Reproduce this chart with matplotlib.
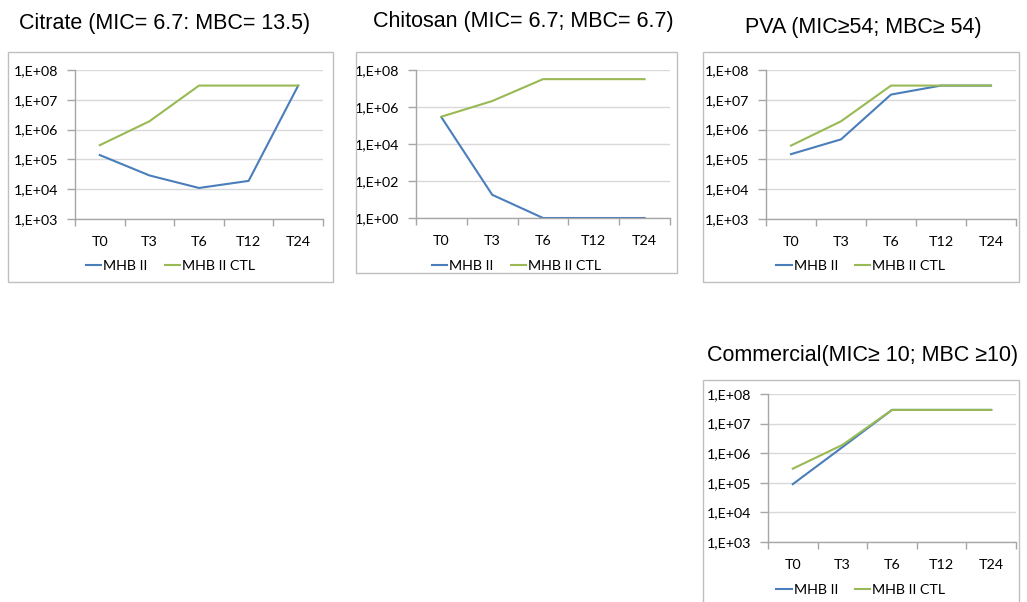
import math

import matplotlib

matplotlib.use("Agg")
import matplotlib.pyplot as plt
from matplotlib.patches import Rectangle
from matplotlib.ticker import FixedLocator, FuncFormatter

# --- данные (КОЕ/мл)
times = ["T0", "T3", "T6", "T12", "T24"]
series_names = ["MHB II", "MHB II CTL"]

citrate_mhb = [1.4e5, 2.9e4, 1.1e4, 1.9e4, 3.0e7]
citrate_ctl = [3.0e5, 1.9e6, 3.0e7, 3.0e7, 3.0e7]

chitosan_mhb = [2.8e5, 18, 1, 1, 1]
chitosan_ctl = [3.0e5, 2.1e6, 3.2e7, 3.2e7, 3.2e7]

pva_mhb = [1.5e5, 4.7e5, 1.5e7, 3.0e7, 3.0e7]
pva_ctl = [2.9e5, 1.9e6, 3.0e7, 3.0e7, 3.0e7]

comm_mhb = [9.0e4, 1.6e6, 2.9e7, 2.9e7, 2.9e7]
comm_ctl = [3.0e5, 1.9e6, 2.9e7, 2.9e7, 2.9e7]

titles = [
    "Citrate (MIC= 6.7: MBC= 13.5)",
    "Chitosan (MIC= 6.7; MBC= 6.7)",
    "PVA (MIC\u226554; MBC\u2265 54)",
    "Commercial(MIC\u2265 10; MBC \u226510)",
]

BLUE = "#4A7EBB"
GREEN = "#98B954"
GRID = "#D9D9D9"
AXIS = "#A6A6A6"
TICK_FONT = ["Lato", "DejaVu Sans"]
TITLE_FONT = ["Liberation Sans", "DejaVu Sans"]
TICK_SIZE = 10.3

W, H = 1027, 602
fig = plt.figure(figsize=(W / 100, H / 100), dpi=100)


def fx(x):
    return x / W


def fy(y):
    return 1 - y / H


def panel(box, axbox, title, title_xy, mhb, ctl, exps, legend_y):
    bx0, by0, bx1, by1 = box
    fig.patches.append(Rectangle((fx(bx0), fy(by1)), fx(bx1 - bx0), (by1 - by0) / H,
                                 transform=fig.transFigure, fill=False,
                                 edgecolor="#BFBFBF", lw=1.0))
    fig.text(fx(title_xy[0]), fy(title_xy[1]), title, ha="center", va="center",
             fontsize=15.5, family=TITLE_FONT)

    ax0, ay0, ax1, ay1 = axbox
    ax = fig.add_axes([fx(ax0), fy(ay1), fx(ax1 - ax0), (ay1 - ay0) / H])
    x = range(len(times))
    ax.plot(x, mhb, color=BLUE, lw=1.5, label=series_names[0])
    ax.plot(x, ctl, color=GREEN, lw=1.5, label=series_names[1])
    ax.set_yscale("log")
    ax.set_ylim(10.0 ** exps[0], 10.0 ** exps[-1])
    ax.set_xlim(-0.5, len(times) - 0.5)

    ax.yaxis.set_major_locator(FixedLocator([10.0 ** e for e in exps]))
    ax.yaxis.set_minor_locator(FixedLocator([]))
    ax.yaxis.set_major_formatter(FuncFormatter(lambda v, p: "1,E+%02d" % round(math.log10(v))))
    ax.grid(axis="y", color=GRID, lw=1.0)
    ax.set_axisbelow(True)

    ax.set_xticks(list(x), times)
    ax.set_xticks([i - 0.5 for i in range(len(times) + 1)], minor=True)
    ax.tick_params(axis="x", which="major", length=0, pad=12)
    ax.tick_params(axis="x", which="minor", length=5, color=AXIS, width=1)
    ax.tick_params(axis="y", which="major", length=6, color=AXIS, width=1, pad=6)

    for s in ("top", "right"):
        ax.spines[s].set_visible(False)
    for s in ("left", "bottom"):
        ax.spines[s].set_color(AXIS)
        ax.spines[s].set_linewidth(1.0)
    for lab in ax.get_xticklabels() + ax.get_yticklabels():
        lab.set_family(TICK_FONT)
        lab.set_fontsize(TICK_SIZE)

    ax.legend(loc="center", bbox_to_anchor=(fx((bx0 + bx1) / 2), fy(legend_y)),
              bbox_transform=fig.transFigure, ncol=2, frameon=False,
              handlelength=1.05, handletextpad=0.15, columnspacing=1.2,
              prop={"family": TICK_FONT, "size": TICK_SIZE})
    return ax


decades = [3, 4, 5, 6, 7, 8]
panel((8, 52, 333, 282), (75, 70, 323, 219), titles[0], (165, 23),
      citrate_mhb, citrate_ctl, decades, 266)
panel((356, 52, 677, 273), (416, 70, 670, 218), titles[1], (523, 21),
      chitosan_mhb, chitosan_ctl, [0, 2, 4, 6, 8], 266)
panel((703, 52, 1019, 282), (766, 70, 1016, 219), titles[2], (863, 27),
      pva_mhb, pva_ctl, decades, 266)
panel((703, 380, 1019, 615), (768, 394, 1016, 542), titles[3], (863, 355),
      comm_mhb, comm_ctl, decades, 590)

fig.savefig("out.png", dpi=100)
